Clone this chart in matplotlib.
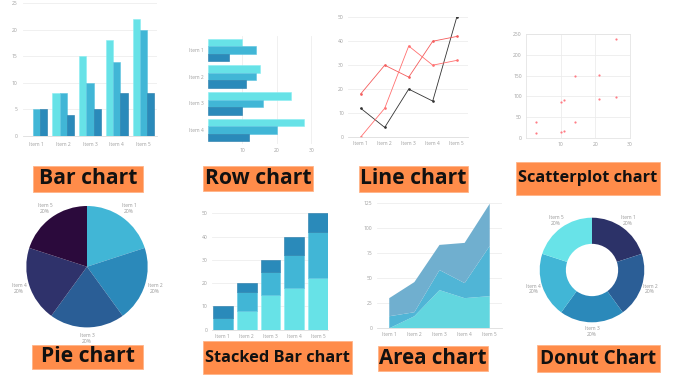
import numpy as np
import matplotlib
matplotlib.use('Agg')
import matplotlib.pyplot as plt
from matplotlib.patches import Rectangle

plt.rcParams['font.family'] = ['Open Sans', 'DejaVu Sans']

# data
items = ['Item 1', 'Item 2', 'Item 3', 'Item 4', 'Item 5']
bar_a = [0, 8, 15, 18, 22]
bar_b = [5, 8, 10, 14, 20]
bar_c = [5, 4, 5, 8, 8]

row_items = ['Item 1', 'Item 2', 'Item 3', 'Item 4']
row_a = [10, 15, 24, 28]
row_b = [14, 14, 16, 20]
row_c = [6, 11, 10, 12]

line_black = [12, 4, 20, 15, 50]
line_red1 = [18, 30, 25, 40, 42]
line_red2 = [0, 12, 38, 30, 32]

scat_x = [3, 3, 10, 11, 10, 11, 14, 14, 21, 21, 26, 26]
scat_y = [11, 38, 14, 17, 87, 91, 149, 38, 152, 93, 239, 99]

pie_vals = [1, 1, 1, 1, 1]

titles = ['Bar chart', 'Row chart', 'Line chart', 'Scatterplot chart',
          'Pie chart', 'Stacked Bar chart', 'Area chart', 'Donut Chart']

# colours
c_light = '#67e2e7'
c_mid = '#41b6d6'
c_dark = '#2a8aba'
orange = '#ff8c4a'
tick_col = '#a0a0a0'
grid_col = '#eeeeee'

W, H = 680, 383
fig = plt.figure(figsize=(W / 100, H / 100), dpi=100)
fig.patch.set_facecolor('white')


def px_axes(l, t, r, b):
    return fig.add_axes([l / W, 1 - b / H, (r - l) / W, (b - t) / H])


def style(ax, pad=4):
    for s in ax.spines.values():
        s.set_visible(False)
    ax.tick_params(length=0, labelsize=3.6, labelcolor=tick_col, pad=pad)
    ax.set_axisbelow(True)


def label_box(l, t, r, b, text, size):
    fig.add_artist(Rectangle((l / W, 1 - b / H), (r - l) / W, (b - t) / H,
                             transform=fig.transFigure, facecolor=orange,
                             edgecolor='#ffb488', linewidth=0.6))
    fig.text((l + r) / 2 / W, 1 - (t + b) / 2 / H, text, ha='center', va='center',
             fontsize=size, fontweight='bold', color='#111111')


x = np.arange(len(items))

# Bar chart
ax = px_axes(23, 3, 157, 136)
w = 0.27
ax.bar(x - w, bar_a, w, color=c_light, edgecolor='#8aeef2', linewidth=0.4)
ax.bar(x, bar_b, w, color=c_mid, edgecolor='#5cc4e0', linewidth=0.4)
ax.bar(x + w, bar_c, w, color=c_dark, edgecolor='#2479a8', linewidth=0.4)
ax.set_xlim(-0.5, 4.5)
ax.set_ylim(0, 25)
ax.set_xticks(x, items)
ax.set_yticks(range(0, 26, 5))
ax.grid(axis='y', color=grid_col, linewidth=0.6)
style(ax)
ax.spines['bottom'].set_visible(True)
ax.spines['bottom'].set_color('#dddddd')
ax.spines['bottom'].set_linewidth(0.6)

# Row chart
ax = px_axes(208, 36, 312, 144)
y = np.arange(len(row_items))
h = 0.28
ax.barh(y - h, row_a, h, color=c_light, edgecolor='#8aeef2', linewidth=0.4)
ax.barh(y, row_b, h, color=c_mid, edgecolor='#5cc4e0', linewidth=0.4)
ax.barh(y + h, row_c, h, color=c_dark, edgecolor='#2479a8', linewidth=0.4)
ax.set_ylim(3.52, -0.52)
ax.set_xlim(0, 30.2)
ax.set_yticks(y, row_items)
ax.set_xticks([10, 20, 30])
ax.grid(axis='x', color=grid_col, linewidth=0.6)
style(ax, pad=3)

# Line chart
ax = px_axes(348, 17.3, 468, 137)
ax.plot(x, line_black, color='#333333', linewidth=0.6, marker='o', markersize=0.9)
ax.plot(x, line_red1, color='#f45c5c', linewidth=0.6, marker='o', markersize=0.9)
ax.plot(x, line_red2, color='#ff7070', linewidth=0.6, marker='o', markersize=0.9)
ax.set_xlim(-0.53, 4.47)
ax.set_ylim(0, 50)
ax.set_xticks(x, items)
ax.set_yticks(range(0, 51, 10))
ax.grid(axis='y', color=grid_col, linewidth=0.6)
style(ax, pad=3)
ax.spines['bottom'].set_visible(True)
ax.spines['bottom'].set_color('#dddddd')
ax.spines['bottom'].set_linewidth(0.6)

# Scatterplot chart
ax = px_axes(526, 34.3, 630, 137.7)
ax.scatter(scat_x, scat_y, s=2.5, color='#ff7b85', linewidths=0)
ax.set_xlim(0, 30)
ax.set_ylim(0, 250)
ax.set_xticks([10, 20, 30])
ax.set_yticks(range(0, 251, 50))
ax.grid(color='#ececec', linewidth=0.6)
style(ax, pad=3)
for s in ax.spines.values():
    s.set_visible(True)
    s.set_color('#e4e4e4')
    s.set_linewidth(0.6)

# Pie chart
R = 60.7
cx, cy = 87, 266.7
ax = px_axes(cx - R, cy - R, cx + R, cy + R)
pie_labels = [f'{it}\n{v / sum(pie_vals) * 100:.0f}%' for it, v in zip(items, pie_vals)]
_, texts = ax.pie(pie_vals, labels=pie_labels, startangle=90, counterclock=False,
                  colors=['#41b6d6', '#2b89ba', '#2a5e96', '#2f326b', '#2b0a3c'],
                  labeldistance=1.18, textprops=dict(fontsize=3.6, color='#999999'))
for t in texts:
    t.set_ha('center')
    t.set_va('center')
ax.set_xlim(-1, 1)
ax.set_ylim(-1, 1)
ax.axis('off')

# Stacked bar chart
ax = px_axes(211.7, 213.3, 328.3, 329.7)
bw = 0.83
bot_b = np.array(bar_a)
bot_c = bot_b + np.array(bar_b)
ax.bar(x, bar_a, bw, color=c_light, edgecolor='#8aeef2', linewidth=0.4)
ax.bar(x, bar_b, bw, bottom=bot_b, color=c_mid, edgecolor='#5cc4e0', linewidth=0.4)
ax.bar(x, bar_c, bw, bottom=bot_c, color=c_dark, edgecolor='#2479a8', linewidth=0.4)
ax.set_xlim(-0.46, 4.42)
ax.set_ylim(0, 50)
ax.set_xticks(x, items)
ax.set_yticks(range(0, 51, 10))
ax.grid(axis='y', color=grid_col, linewidth=0.6)
style(ax, pad=3)
ax.spines['bottom'].set_visible(True)
ax.spines['bottom'].set_color('#dddddd')
ax.spines['bottom'].set_linewidth(0.6)

# Area chart
ax = px_axes(376.7, 202.7, 502.3, 328.3)
ax.stackplot(x, line_red2, line_black, line_red1,
             colors=['#62d6df', '#50b5d6', '#70afcf'], linewidth=0)
ax.set_xlim(-0.5, 4.5)
ax.set_ylim(0, 125)
ax.set_xticks(x, items)
ax.set_yticks(range(0, 126, 25))
ax.grid(axis='y', color=grid_col, linewidth=0.6)
style(ax, pad=3)
ax.spines['bottom'].set_visible(True)
ax.spines['bottom'].set_color('#dddddd')
ax.spines['bottom'].set_linewidth(0.6)

# Donut chart
R = 52.3
cx, cy = 592, 270
ax = px_axes(cx - R, cy - R, cx + R, cy + R)
_, texts = ax.pie(pie_vals, labels=pie_labels, startangle=90, counterclock=False,
                  colors=['#2c3268', '#2b5e96', '#2b89ba', '#41b6d6', '#68e3e8'],
                  labeldistance=1.17, wedgeprops=dict(width=0.5),
                  textprops=dict(fontsize=3.6, color='#999999'))
for t in texts:
    t.set_ha('center')
    t.set_va('center')
ax.set_xlim(-1, 1)
ax.set_ylim(-1, 1)
ax.axis('off')

# orange title boxes
label_box(33, 166, 143, 192, titles[0], 15.2)
label_box(203, 166, 313, 191, titles[1], 15.2)
label_box(359, 166, 468, 192, titles[2], 15.2)
label_box(516, 162, 660, 195, titles[3], 11.8)
label_box(32, 345, 143, 369, titles[4], 15.2)
label_box(203, 341, 352, 374, titles[5], 11.8)
label_box(378, 346, 488, 371, titles[6], 14.8)
label_box(537, 345, 660, 372, titles[7], 13.6)

fig.savefig('out.png', dpi=100)
